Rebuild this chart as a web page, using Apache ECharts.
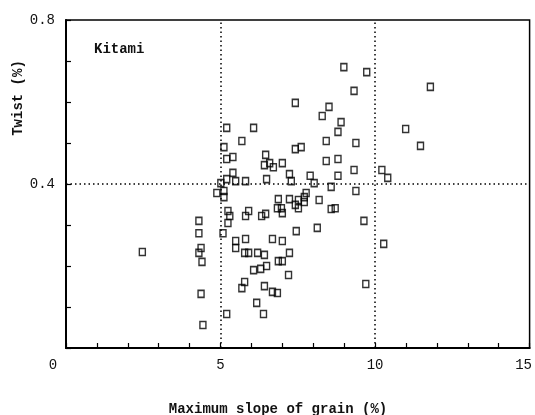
<!DOCTYPE html>
<html>
<head>
<meta charset="utf-8">
<script src="https://cdn.jsdelivr.net/npm/echarts@6/dist/echarts.min.js"></script>
<style>
html,body{margin:0;padding:0;background:#fff;}
#chart{width:535px;height:415px;}
</style>
</head>
<body>
<div id="chart"></div>
<script>
// Maximum slope of grain (%)
var slopeValues = [
  2.47, 4.30, 4.30, 4.37, 4.30, 4.40, 4.37, 4.43,
  5.01, 4.88, 5.11, 5.11, 5.24, 5.30, 5.24, 5.08,
  5.49, 5.49, 5.81, 5.78, 5.91, 6.20, 6.42, 5.91,
  5.81, 6.33, 6.46, 6.07, 6.30, 6.49, 5.78, 5.69,
  6.42, 6.68, 6.84, 6.17, 5.20, 6.39, 6.68, 7.00,
  7.23, 7.45, 6.87, 7.00, 7.20, 6.87, 6.84, 6.97,
  7.00, 7.23, 7.42, 7.52, 7.52, 7.71, 7.71, 7.77,
  8.19, 8.58, 8.71, 9.38, 9.64, 8.13, 10.28, 9.70,
  5.20, 6.07, 5.69, 5.11, 5.20, 5.40, 5.40, 5.20,
  5.49, 5.81, 6.46, 6.42, 6.49, 6.59, 6.71, 7.00,
  7.23, 7.29, 7.90, 8.03, 8.58, 7.42, 7.61, 8.29,
  8.90, 8.80, 8.42, 9.38, 8.42, 8.80, 9.32, 8.80,
  8.99, 9.73, 9.32, 7.42, 8.51, 10.99, 11.79, 11.47,
  10.22, 10.41
];
// Twist (%)
var twistValues = [
  0.234, 0.310, 0.280, 0.244, 0.232, 0.210, 0.132, 0.056,
  0.402, 0.378, 0.383, 0.368, 0.334, 0.322, 0.305, 0.280,
  0.261, 0.244, 0.266, 0.232, 0.232, 0.232, 0.227, 0.334,
  0.322, 0.322, 0.327, 0.190, 0.193, 0.200, 0.161, 0.146,
  0.151, 0.137, 0.134, 0.110, 0.083, 0.083, 0.266, 0.261,
  0.232, 0.285, 0.212, 0.212, 0.178, 0.363, 0.341, 0.341,
  0.329, 0.363, 0.349, 0.341, 0.361, 0.368, 0.356, 0.378,
  0.361, 0.339, 0.341, 0.383, 0.310, 0.293, 0.254, 0.156,
  0.537, 0.537, 0.505, 0.490, 0.461, 0.466, 0.427, 0.412,
  0.407, 0.407, 0.471, 0.446, 0.412, 0.451, 0.441, 0.451,
  0.424, 0.407, 0.420, 0.402, 0.393, 0.485, 0.490, 0.566,
  0.551, 0.527, 0.505, 0.500, 0.456, 0.461, 0.434, 0.420,
  0.685, 0.673, 0.627, 0.598, 0.588, 0.534, 0.637, 0.493,
  0.434, 0.415
];
var xTickLabels = ['0', '5', '10', '15'];
var yTickLabels = ['0.4', '0.8'];
var xRefLines = [5, 10];
var yRefLines = [0.4];
var siteLabel = 'Kitami';
var xTitle = 'Maximum slope of grain (%)';
var yTitle = 'Twist (%)';

var points = slopeValues.map(function (x, i) { return [x, twistValues[i]]; });
var FONT = '"Liberation Mono", "DejaVu Sans Mono", monospace';

var chart = echarts.init(document.getElementById('chart'), null, {renderer: 'canvas'});
chart.setOption({
  animation: false,
  backgroundColor: '#fff',
  grid: {
    left: 66, right: 2, top: 20, bottom: 67,
    show: true, borderColor: '#000', borderWidth: 1.5, backgroundColor: 'transparent'
  },
  xAxis: {
    type: 'value', min: 0, max: 15, interval: 1,
    axisLine: {show: true, onZero: false, lineStyle: {color: '#000', width: 2}},
    axisTick: {show: true, inside: true, length: 5, lineStyle: {color: '#000', width: 1.2}},
    splitLine: {show: false},
    axisLabel: {
      margin: 10,
      fontFamily: FONT, fontSize: 14, color: '#111',
      formatter: function (v) {
        var s = String(Math.round(v));
        if (xTickLabels.indexOf(s) < 0 || Math.abs(v - Math.round(v)) > 1e-6) return '';
        if (s === '0') return '{a|' + s + '}';
        if (s === '15') return '{b|' + s + '}';
        return s;
      },
      rich: {
        a: {fontFamily: FONT, fontSize: 14, color: '#111', padding: [0, 26, 0, 0]},
        b: {fontFamily: FONT, fontSize: 14, color: '#111', padding: [0, 12, 0, 0]}
      }
    }
  },
  yAxis: {
    type: 'value', min: 0, max: 0.8, interval: 0.1,
    axisLine: {show: true, onZero: false, lineStyle: {color: '#000', width: 2}},
    axisTick: {show: true, inside: true, length: 5, lineStyle: {color: '#000', width: 1.2}},
    splitLine: {show: false},
    axisLabel: {
      margin: 11,
      fontFamily: FONT, fontSize: 14, color: '#111',
      formatter: function (v) {
        var s = v.toFixed(1);
        return yTickLabels.indexOf(s) >= 0 ? s : '';
      }
    }
  },
  graphic: [
    {type: 'text', left: 94, top: 42, style: {text: siteLabel, font: 'bold 14px ' + FONT, fill: '#111'}},
    {type: 'text', x: 278, y: 409, style: {text: xTitle, font: 'bold 14px ' + FONT, fill: '#111', align: 'center', verticalAlign: 'middle'}},
    {type: 'text', x: 18, y: 98, rotation: Math.PI / 2, style: {text: yTitle, font: 'bold 14px ' + FONT, fill: '#111', align: 'center', verticalAlign: 'middle'}}
  ],
  series: [{
    type: 'scatter',
    data: points,
    symbol: 'rect',
    symbolSize: [6, 7],
    itemStyle: {color: 'rgba(255,255,255,0)', borderColor: '#000', borderWidth: 1.5},
    markLine: {
      silent: true,
      symbol: 'none',
      label: {show: false},
      lineStyle: {color: '#000', type: [1.5, 3], width: 1.5},
      data: xRefLines.map(function (v) { return {xAxis: v}; })
        .concat(yRefLines.map(function (v) { return {yAxis: v}; }))
    }
  }]
});
</script>
</body>
</html>
